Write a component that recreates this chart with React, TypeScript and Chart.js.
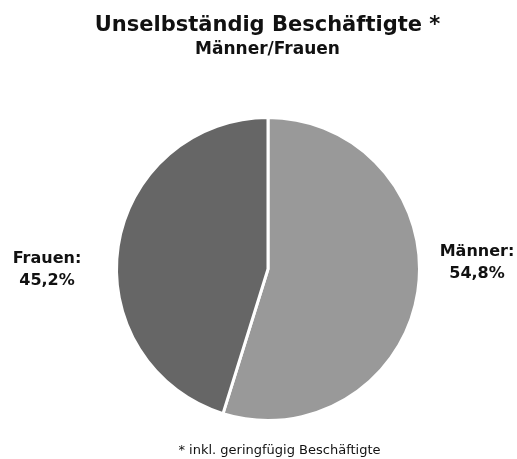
import React, { useEffect, useRef } from "react";
import { Chart, registerables } from "chart.js";

Chart.register(...registerables);

const categories = ["Männer", "Frauen"];
const values = [54.8, 45.2];
const colors = ["#999999", "#666666"];
const titleText = "Unselbständig Beschäftigte *";
const subtitleText = "Männer/Frauen";
const footerText = "* inkl. geringfügig Beschäftigte";

const FONT = "'DejaVu Sans', Verdana, sans-serif";

const fmt = (v: number) => v.toFixed(1).replace(".", ",") + "%";

const textPlugin = {
  id: "textPlugin",
  afterDraw(chart: any) {
    const ctx = chart.ctx as CanvasRenderingContext2D;
    ctx.save();
    ctx.fillStyle = "#111111";
    ctx.textAlign = "center";
    ctx.textBaseline = "alphabetic";
    ctx.font = `bold 21px ${FONT}`;
    ctx.fillText(titleText, 267.5, 31);
    ctx.font = `bold 17px ${FONT}`;
    ctx.fillText(subtitleText, 267.5, 54);
    ctx.font = `13px ${FONT}`;
    ctx.fillText(footerText, 279.5, 454);
    // slice labels
    ctx.font = `bold 16px ${FONT}`;
    ctx.fillText(categories[1] + ":", 47, 263);
    ctx.fillText(fmt(values[1]), 47, 285);
    ctx.fillText(categories[0] + ":", 477, 256);
    ctx.fillText(fmt(values[0]), 477, 278);
    ctx.restore();
  },
};

export default function App() {
  const ref = useRef<HTMLCanvasElement>(null);
  useEffect(() => {
    document.body.style.margin = "0";
    document.body.style.overflow = "hidden";
    if (!ref.current) return;
    const chart = new Chart(ref.current, {
      type: "pie",
      data: {
        labels: categories,
        datasets: [
          {
            data: values,
            backgroundColor: colors,
            borderColor: "#ffffff",
            borderWidth: 3,
          },
        ],
      },
      options: {
        animation: false,
        responsive: false,
        layout: { padding: { left: 115, right: 96, top: 116, bottom: 37 } },
        plugins: {
          legend: { display: false },
          tooltip: { enabled: false },
          title: { display: false },
        },
      },
      plugins: [textPlugin],
    });
    return () => chart.destroy();
  }, []);
  return (
    <div style={{ width: 517, height: 459, position: "relative" }}>
      <canvas ref={ref} width={517} height={459} style={{ display: "block" }} />
    </div>
  );
}
